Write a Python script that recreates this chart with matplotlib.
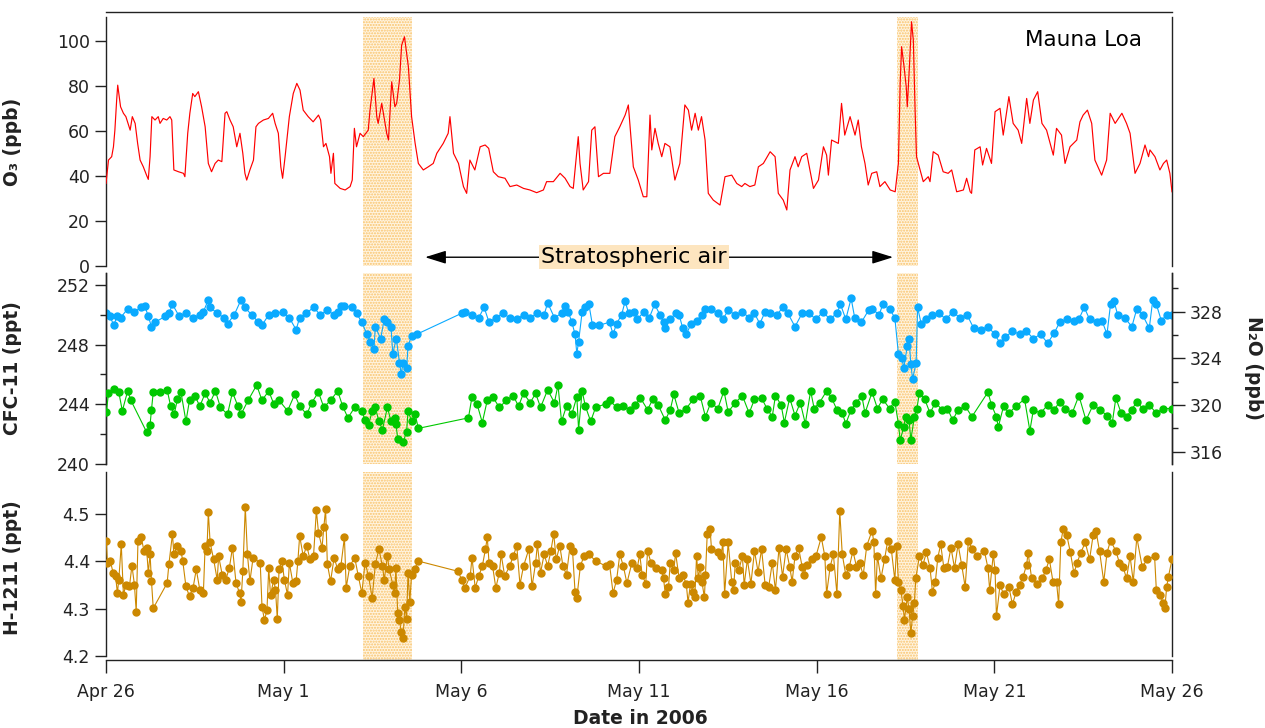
import numpy as np
import matplotlib
matplotlib.use("Agg")
import matplotlib.pyplot as plt
import matplotlib.dates as mdates
from matplotlib.ticker import FuncFormatter

# Mauna Loa, 26 Apr - 26 May 2006.  Times are days after 2006-04-26 00:00.
start = np.datetime64("2006-04-26T00:00")

o3_day = [0.00, 0.07, 0.16, 0.21, 0.25, 0.30, 0.33, 0.41, 0.49, 0.56,
          0.68, 0.74, 0.82, 0.89, 0.96, 1.05, 1.14, 1.19, 1.24, 1.29,
          1.38, 1.47, 1.52, 1.61, 1.71, 1.80, 1.85, 1.91, 2.04, 2.18,
          2.22, 2.30, 2.36, 2.44, 2.50, 2.60, 2.69, 2.79, 2.88, 2.97,
          3.07, 3.16, 3.26, 3.35, 3.40, 3.49, 3.58, 3.68, 3.77, 3.85,
          3.91, 3.96, 4.05, 4.15, 4.22, 4.29, 4.43, 4.57, 4.69, 4.76,
          4.85, 4.92, 4.97, 5.04, 5.16, 5.27, 5.37, 5.46, 5.55, 5.69,
          5.83, 5.98, 6.04, 6.12, 6.19, 6.29, 6.33, 6.40, 6.44, 6.59,
          6.73, 6.87, 6.93, 6.99, 7.05, 7.15, 7.24, 7.38, 7.43, 7.54,
          7.62, 7.66, 7.76, 7.90, 7.95, 8.04, 8.13, 8.18, 8.26, 8.32,
          8.40, 8.51, 8.60, 8.70, 8.79, 8.93, 9.07, 9.21, 9.31, 9.49,
          9.63, 9.68, 9.78, 9.92, 10.06, 10.15, 10.24, 10.38, 10.53, 10.67,
          10.77, 10.90, 11.04, 11.23, 11.37, 11.56, 11.75, 11.93, 12.12, 12.31,
          12.40, 12.59, 12.78, 12.92, 13.06, 13.15, 13.29, 13.34, 13.43, 13.58,
          13.67, 13.76, 13.86, 14.00, 14.18, 14.32, 14.46, 14.61, 14.70, 14.84,
          14.98, 15.12, 15.22, 15.31, 15.36, 15.45, 15.54, 15.64, 15.73, 15.87,
          16.01, 16.15, 16.29, 16.39, 16.48, 16.58, 16.67, 16.76, 16.86, 16.95,
          17.09, 17.28, 17.42, 17.61, 17.75, 17.89, 17.98, 18.12, 18.26, 18.36,
          18.50, 18.69, 18.83, 18.92, 19.06, 19.16, 19.25, 19.39, 19.48, 19.58,
          19.72, 19.91, 20.05, 20.19, 20.28, 20.33, 20.42, 20.61, 20.70, 20.79,
          20.94, 21.08, 21.17, 21.26, 21.36, 21.45, 21.55, 21.69, 21.78, 21.92,
          22.07, 22.21, 22.30, 22.35, 22.39, 22.46, 22.52, 22.55, 22.61, 22.67,
          22.72, 22.77, 22.81, 22.91, 23.00, 23.14, 23.19, 23.28, 23.42, 23.56,
          23.70, 23.80, 23.94, 24.13, 24.22, 24.32, 24.36, 24.45, 24.60, 24.67,
          24.78, 24.92, 25.02, 25.16, 25.25, 25.41, 25.53, 25.67, 25.77, 25.91,
          26.00, 26.10, 26.22, 26.34, 26.47, 26.66, 26.75, 26.89, 26.99, 27.13,
          27.32, 27.41, 27.50, 27.62, 27.74, 27.83, 28.02, 28.16, 28.26, 28.40,
          28.59, 28.72, 28.82, 28.96, 29.10, 29.24, 29.34, 29.38, 29.52, 29.66,
          29.76, 29.85, 29.94, 30.00]
o3_ppb = [36.7, 47.1, 48.6, 53.0, 60.4, 73.8, 80.4, 70.8, 67.9, 66.4,
          60.4, 66.4, 63.4, 54.5, 47.1, 44.1, 40.4, 38.5, 48.6, 66.4,
          64.9, 66.4, 63.4, 65.6, 64.9, 66.4, 64.9, 42.7, 41.9, 41.2,
          39.7, 59.0, 67.9, 76.7, 75.3, 77.5, 70.8, 61.9, 45.6, 41.9,
          45.6, 47.1, 46.4, 67.9, 68.6, 64.9, 61.9, 53.0, 59.0, 50.1,
          41.2, 38.2, 42.7, 47.1, 61.9, 63.4, 64.9, 65.6, 67.9, 63.4,
          59.0, 44.1, 39.0, 48.6, 66.4, 76.7, 81.2, 78.2, 69.3, 66.4,
          64.1, 67.1, 64.9, 53.0, 54.5, 48.6, 41.2, 50.1, 36.7, 34.5,
          33.8, 35.3, 38.2, 61.2, 53.0, 59.0, 57.5, 60.4, 69.3, 83.4,
          66.4, 63.4, 72.3, 59.0, 56.0, 81.9, 70.8, 72.3, 82.7, 98.2,
          101.9, 88.6, 66.4, 54.5, 45.6, 42.7, 44.1, 45.6, 50.1, 54.5,
          59.0, 66.4, 50.1, 45.6, 35.3, 32.3, 47.1, 42.7, 53.0, 53.8,
          52.3, 41.9, 39.7, 39.0, 35.3, 36.0, 34.5, 33.8, 32.6, 33.8,
          37.5, 37.5, 41.2, 39.0, 35.3, 34.5, 57.5, 45.6, 33.8, 37.5,
          60.4, 61.9, 39.7, 41.2, 41.2, 57.5, 61.9, 67.1, 71.6, 44.1,
          38.2, 30.8, 30.8, 67.1, 51.6, 61.2, 54.5, 48.6, 54.5, 53.0,
          38.2, 45.6, 71.6, 69.3, 60.4, 67.9, 60.4, 66.4, 56.0, 32.3,
          29.3, 27.1, 39.7, 40.4, 36.7, 35.3, 36.7, 35.3, 36.0, 44.1,
          45.6, 50.8, 48.6, 32.3, 29.3, 24.9, 42.7, 48.6, 44.1, 48.6,
          50.1, 34.5, 38.2, 53.0, 49.3, 40.4, 56.0, 54.5, 72.3, 58.2,
          66.4, 58.2, 64.9, 53.0, 45.6, 36.0, 41.2, 41.9, 35.3, 37.5,
          33.8, 33.0, 45.6, 81.2, 97.5, 88.6, 79.7, 70.8, 88.6, 108.6,
          100.4, 69.3, 48.6, 42.7, 37.5, 39.7, 37.5, 50.8, 49.3, 41.9,
          41.2, 42.7, 33.0, 33.8, 39.0, 33.0, 32.3, 51.6, 53.0, 44.9,
          52.3, 45.6, 68.6, 70.1, 58.2, 75.3, 63.4, 60.4, 54.5, 74.5,
          63.4, 73.8, 77.5, 63.4, 60.4, 49.3, 61.2, 58.2, 45.6, 53.0,
          56.0, 64.1, 67.1, 69.3, 63.4, 47.1, 40.4, 47.1, 67.9, 63.4,
          67.9, 63.4, 59.0, 41.2, 45.6, 53.8, 48.6, 51.6, 48.6, 42.7,
          45.6, 47.1, 41.2, 33.0]

cfc11_day = [0.01, 0.11, 0.22, 0.31, 0.41, 0.61, 0.80, 0.99, 1.09, 1.19,
             1.28, 1.38, 1.67, 1.77, 1.87, 2.06, 2.25, 2.45, 2.64, 2.74,
             2.88, 2.93, 3.13, 3.32, 3.42, 3.61, 3.80, 3.90, 4.10, 4.29,
             4.39, 4.58, 4.77, 4.97, 5.16, 5.35, 5.45, 5.64, 5.84, 6.03,
             6.23, 6.42, 6.52, 6.61, 6.71, 6.91, 7.05, 7.20, 7.34, 7.44,
             7.54, 7.58, 7.73, 7.83, 7.92, 8.02, 8.07, 8.17, 8.26, 8.31,
             8.36, 8.46, 8.50, 8.60, 8.75, 10.01, 10.10, 10.30, 10.49, 10.64,
             10.78, 10.97, 11.17, 11.36, 11.56, 11.75, 11.94, 12.14, 12.33, 12.43,
             12.62, 12.82, 12.91, 13.01, 13.11, 13.20, 13.25, 13.30, 13.40, 13.49,
             13.59, 13.69, 13.88, 14.17, 14.27, 14.37, 14.51, 14.61, 14.71, 14.85,
             14.95, 15.14, 15.29, 15.44, 15.59, 15.69, 15.74, 15.88, 16.03, 16.13,
             16.23, 16.33, 16.47, 16.62, 16.77, 16.87, 17.02, 17.22, 17.36, 17.51,
             17.71, 17.91, 18.10, 18.25, 18.40, 18.55, 18.70, 18.89, 19.04, 19.19,
             19.39, 19.59, 19.78, 19.98, 20.18, 20.37, 20.57, 20.67, 20.82, 20.97,
             21.07, 21.26, 21.46, 21.56, 21.76, 21.86, 22.05, 22.20, 22.30, 22.40,
             22.45, 22.55, 22.60, 22.65, 22.70, 22.80, 22.84, 22.94, 23.09, 23.24,
             23.44, 23.64, 23.83, 24.03, 24.23, 24.42, 24.62, 24.82, 25.01, 25.16,
             25.31, 25.51, 25.71, 25.90, 26.10, 26.30, 26.50, 26.69, 26.84, 27.04,
             27.24, 27.38, 27.53, 27.68, 27.88, 28.03, 28.17, 28.27, 28.37, 28.47,
             28.67, 28.87, 29.01, 29.17, 29.36, 29.46, 29.56, 29.70, 29.85, 30.00]
cfc11_ppt = [250.1, 249.9, 249.3, 249.9, 249.8, 250.4, 250.2, 250.5, 250.6, 249.9,
             249.2, 249.5, 249.9, 250.1, 250.7, 249.9, 250.1, 249.8, 250.0, 250.2,
             251.0, 250.5, 250.1, 249.8, 249.4, 250.0, 251.0, 250.5, 250.0, 249.5,
             249.3, 250.0, 250.1, 250.2, 249.8, 249.0, 249.8, 250.1, 250.5, 250.0,
             250.3, 250.0, 250.2, 250.6, 250.6, 250.5, 250.1, 249.5, 248.7, 248.2,
             247.7, 249.2, 248.4, 249.7, 249.5, 249.2, 247.4, 248.4, 246.8, 246.0,
             246.8, 246.4, 247.9, 248.6, 248.7, 250.1, 250.2, 250.0, 249.8, 250.5,
             249.5, 249.8, 250.1, 249.8, 249.7, 250.0, 249.8, 250.1, 250.0, 250.8,
             249.8, 250.1, 250.6, 250.2, 249.5, 248.7, 247.4, 248.2, 250.2, 250.5,
             250.7, 249.3, 249.3, 249.5, 248.7, 249.4, 250.0, 250.9, 250.1, 250.2,
             249.7, 250.2, 249.8, 250.7, 250.0, 249.5, 249.1, 249.7, 250.1, 250.0,
             249.1, 248.7, 249.4, 249.6, 250.0, 250.4, 250.4, 250.1, 249.7, 250.3,
             250.0, 250.2, 249.8, 250.1, 249.4, 250.2, 250.1, 250.0, 250.5, 250.1,
             249.2, 250.1, 250.1, 249.7, 250.2, 249.7, 250.1, 250.7, 249.7, 251.1,
             249.8, 249.5, 250.3, 250.4, 250.0, 250.7, 250.4, 249.8, 247.4, 247.1,
             246.4, 247.9, 248.4, 246.7, 245.7, 246.8, 250.5, 249.4, 249.7, 250.0,
             250.1, 249.7, 250.2, 249.8, 250.0, 249.1, 249.0, 249.2, 248.7, 248.1,
             248.5, 248.9, 248.7, 248.9, 248.4, 248.7, 248.1, 248.8, 249.5, 249.7,
             249.6, 249.7, 250.5, 249.7, 249.5, 249.6, 248.7, 250.7, 250.9, 250.0,
             249.8, 249.2, 250.4, 250.0, 249.1, 251.0, 250.7, 249.6, 250.0, 250.0]

n2o_day = [0.01, 0.07, 0.22, 0.36, 0.46, 0.61, 0.70, 1.14, 1.24, 1.28,
           1.33, 1.53, 1.72, 1.82, 1.92, 2.01, 2.11, 2.25, 2.35, 2.50,
           2.64, 2.79, 2.93, 3.08, 3.22, 3.42, 3.56, 3.71, 3.80, 4.00,
           4.24, 4.39, 4.58, 4.72, 4.87, 5.11, 5.31, 5.45, 5.65, 5.79,
           5.98, 6.13, 6.32, 6.52, 6.66, 6.81, 7.00, 7.20, 7.29, 7.39,
           7.49, 7.58, 7.68, 7.78, 7.92, 8.02, 8.12, 8.16, 8.21, 8.36,
           8.46, 8.50, 8.60, 8.70, 8.79, 10.20, 10.30, 10.44, 10.59, 10.73,
           10.88, 11.07, 11.27, 11.46, 11.61, 11.75, 11.94, 12.09, 12.23, 12.43,
           12.62, 12.72, 12.82, 12.96, 13.11, 13.25, 13.30, 13.40, 13.49, 13.64,
           13.78, 14.07, 14.17, 14.37, 14.56, 14.75, 14.90, 15.04, 15.24, 15.39,
           15.54, 15.74, 15.88, 15.98, 16.13, 16.33, 16.53, 16.72, 16.87, 17.02,
           17.22, 17.39, 17.51, 17.71, 17.91, 18.10, 18.25, 18.45, 18.60, 18.75,
           18.84, 19.00, 19.09, 19.24, 19.39, 19.54, 19.68, 19.83, 19.93, 20.08,
           20.28, 20.42, 20.57, 20.72, 20.82, 20.97, 21.12, 21.27, 21.36, 21.56,
           21.71, 21.86, 22.05, 22.20, 22.30, 22.35, 22.45, 22.50, 22.60, 22.65,
           22.75, 22.82, 22.89, 23.04, 23.19, 23.34, 23.53, 23.68, 23.83, 23.98,
           24.18, 24.37, 24.82, 24.92, 25.06, 25.11, 25.26, 25.41, 25.61, 25.85,
           26.00, 26.10, 26.30, 26.50, 26.69, 26.84, 26.99, 27.19, 27.38, 27.58,
           27.78, 27.97, 28.17, 28.32, 28.42, 28.57, 28.72, 28.87, 29.01, 29.17,
           29.36, 29.56, 29.75, 30.00]
n2o_ppb = [319.4, 321.0, 321.4, 321.1, 319.5, 321.2, 320.4, 317.7, 318.3, 319.6,
           321.1, 321.1, 321.3, 319.9, 319.2, 320.5, 321.1, 318.6, 320.4, 320.8,
           319.9, 321.0, 320.2, 321.2, 319.8, 319.2, 321.1, 319.9, 319.2, 320.4,
           321.7, 320.4, 321.2, 320.1, 320.4, 319.5, 320.9, 319.9, 319.2, 320.2,
           321.1, 319.8, 320.4, 321.2, 319.9, 318.9, 319.8, 319.5, 318.7, 318.3,
           319.5, 319.8, 318.6, 317.9, 319.8, 318.6, 318.9, 318.4, 317.1, 316.8,
           317.7, 319.5, 318.6, 319.2, 318.0, 318.9, 320.7, 320.1, 318.5, 320.4,
           320.7, 319.8, 320.4, 320.8, 319.9, 321.0, 320.2, 321.0, 319.8, 321.3,
           320.2, 321.7, 318.6, 319.9, 319.2, 320.7, 317.9, 321.2, 319.9, 318.6,
           319.8, 320.1, 320.4, 319.8, 319.9, 319.6, 320.0, 320.6, 319.6, 320.5,
           320.0, 318.7, 319.6, 320.9, 319.3, 319.7, 320.5, 320.8, 319.0, 320.2,
           319.7, 321.2, 319.4, 320.2, 320.8, 319.3, 320.5, 320.6, 319.7, 319.0,
           320.8, 320.0, 318.5, 320.6, 319.1, 320.2, 318.4, 321.2, 319.7, 320.2,
           321.2, 320.6, 319.6, 319.3, 318.4, 319.6, 320.2, 320.8, 319.3, 321.1,
           319.7, 320.5, 319.7, 320.3, 318.4, 317.0, 318.1, 319.0, 318.7, 317.0,
           319.0, 319.7, 321.0, 320.5, 319.3, 320.2, 319.6, 319.7, 318.7, 319.6,
           319.9, 319.0, 321.1, 320.0, 319.0, 318.1, 319.9, 319.3, 319.9, 320.5,
           317.8, 319.6, 319.3, 320.0, 319.6, 320.3, 319.7, 319.3, 320.8, 318.7,
           320.0, 319.6, 319.1, 318.5, 320.6, 319.3, 319.0, 319.6, 320.3, 319.7,
           320.0, 319.3, 319.7, 319.7]

h1211_day = [0.01, 0.04, 0.12, 0.20, 0.27, 0.32, 0.36, 0.43, 0.49, 0.56,
             0.66, 0.73, 0.80, 0.85, 0.90, 0.99, 1.07, 1.14, 1.19, 1.24,
             1.28, 1.33, 1.72, 1.77, 1.87, 1.91, 2.01, 2.11, 2.16, 2.25,
             2.35, 2.45, 2.54, 2.64, 2.74, 2.79, 2.84, 2.88, 2.93, 3.03,
             3.13, 3.17, 3.27, 3.37, 3.47, 3.56, 3.66, 3.76, 3.80, 3.85,
             3.92, 3.98, 4.05, 4.14, 4.34, 4.39, 4.46, 4.53, 4.58, 4.63,
             4.72, 4.77, 4.82, 4.87, 4.95, 5.02, 5.11, 5.16, 5.26, 5.35,
             5.40, 5.45, 5.55, 5.65, 5.74, 5.84, 5.92, 5.98, 6.08, 6.13,
             6.18, 6.23, 6.32, 6.42, 6.52, 6.61, 6.71, 6.76, 6.86, 7.00,
             7.10, 7.20, 7.29, 7.39, 7.49, 7.58, 7.68, 7.78, 7.83, 7.92,
             7.97, 8.07, 8.12, 8.16, 8.21, 8.26, 8.31, 8.36, 8.41, 8.46,
             8.50, 8.55, 8.60, 8.70, 8.77, 9.91, 10.01, 10.10, 10.25, 10.30,
             10.39, 10.49, 10.59, 10.68, 10.73, 10.78, 10.88, 10.97, 11.07, 11.12,
             11.22, 11.36, 11.46, 11.56, 11.65, 11.75, 11.90, 11.99, 12.09, 12.14,
             12.23, 12.33, 12.43, 12.52, 12.60, 12.67, 12.77, 12.86, 12.96, 13.06,
             13.13, 13.20, 13.25, 13.35, 13.45, 13.59, 13.78, 14.07, 14.17, 14.27,
             14.37, 14.46, 14.56, 14.66, 14.80, 14.95, 15.02, 15.09, 15.19, 15.24,
             15.34, 15.49, 15.64, 15.69, 15.74, 15.83, 15.88, 15.98, 16.03, 16.13,
             16.23, 16.33, 16.38, 16.45, 16.53, 16.57, 16.62, 16.67, 16.72, 16.77,
             16.84, 16.87, 16.92, 17.00, 17.04, 17.22, 17.31, 17.36, 17.41, 17.51,
             17.61, 17.66, 17.71, 17.81, 17.91, 17.96, 18.05, 18.15, 18.25, 18.35,
             18.45, 18.55, 18.65, 18.75, 18.84, 18.94, 19.04, 19.14, 19.24, 19.31,
             19.39, 19.49, 19.59, 19.64, 19.73, 19.88, 19.98, 20.13, 20.23, 20.28,
             20.38, 20.47, 20.57, 20.65, 20.72, 20.82, 20.92, 21.02, 21.12, 21.21,
             21.31, 21.41, 21.56, 21.61, 21.66, 21.71, 21.81, 21.91, 22.00, 22.10,
             22.20, 22.25, 22.30, 22.37, 22.43, 22.47, 22.55, 22.60, 22.65, 22.70,
             22.75, 22.79, 22.89, 22.99, 23.09, 23.19, 23.26, 23.34, 23.41, 23.49,
             23.58, 23.68, 23.78, 23.88, 23.98, 24.08, 24.18, 24.27, 24.37, 24.52,
             24.72, 24.82, 24.87, 24.97, 25.02, 25.06, 25.16, 25.26, 25.41, 25.51,
             25.61, 25.71, 25.81, 25.91, 25.95, 26.05, 26.20, 26.35, 26.45, 26.55,
             26.65, 26.75, 26.81, 26.87, 26.94, 27.04, 27.14, 27.24, 27.33, 27.43,
             27.56, 27.68, 27.78, 27.86, 27.96, 28.08, 28.17, 28.27, 28.42, 28.52,
             28.62, 28.72, 28.82, 28.91, 29.01, 29.16, 29.31, 29.51, 29.56, 29.67,
             29.75, 29.80, 29.85, 29.90, 30.00]
h1211_ppt = [4.444, 4.397, 4.401, 4.376, 4.369, 4.333, 4.361, 4.436, 4.329, 4.351,
             4.347, 4.391, 4.351, 4.294, 4.444, 4.451, 4.422, 4.429, 4.376, 4.415,
             4.358, 4.301, 4.354, 4.394, 4.458, 4.415, 4.433, 4.422, 4.401, 4.347,
             4.326, 4.344, 4.383, 4.340, 4.333, 4.433, 4.422, 4.504, 4.440, 4.404,
             4.361, 4.411, 4.372, 4.361, 4.386, 4.429, 4.354, 4.333, 4.315, 4.379,
             4.515, 4.415, 4.358, 4.408, 4.397, 4.304, 4.276, 4.297, 4.386, 4.329,
             4.361, 4.340, 4.279, 4.383, 4.401, 4.361, 4.329, 4.397, 4.354, 4.358,
             4.401, 4.454, 4.411, 4.433, 4.404, 4.411, 4.508, 4.461, 4.429, 4.472,
             4.511, 4.394, 4.358, 4.408, 4.383, 4.390, 4.451, 4.344, 4.390, 4.408,
             4.369, 4.333, 4.397, 4.369, 4.322, 4.394, 4.426, 4.390, 4.361, 4.411,
             4.383, 4.351, 4.333, 4.386, 4.290, 4.276, 4.251, 4.238, 4.304, 4.279,
             4.376, 4.315, 4.372, 4.383, 4.401, 4.379, 4.361, 4.344, 4.369, 4.408,
             4.344, 4.369, 4.390, 4.426, 4.451, 4.397, 4.390, 4.344, 4.376, 4.415,
             4.369, 4.390, 4.411, 4.433, 4.351, 4.390, 4.426, 4.347, 4.397, 4.436,
             4.376, 4.415, 4.390, 4.422, 4.458, 4.404, 4.433, 4.390, 4.372, 4.433,
             4.422, 4.336, 4.322, 4.390, 4.411, 4.415, 4.401, 4.390, 4.394, 4.333,
             4.361, 4.415, 4.390, 4.354, 4.397, 4.386, 4.415, 4.371, 4.353, 4.422,
             4.397, 4.386, 4.382, 4.364, 4.331, 4.346, 4.397, 4.382, 4.418, 4.364,
             4.371, 4.353, 4.313, 4.353, 4.335, 4.324, 4.411, 4.364, 4.389, 4.357,
             4.324, 4.371, 4.458, 4.469, 4.426, 4.419, 4.411, 4.440, 4.331, 4.440,
             4.357, 4.339, 4.397, 4.382, 4.411, 4.350, 4.404, 4.353, 4.422, 4.378,
             4.426, 4.350, 4.346, 4.397, 4.339, 4.429, 4.368, 4.426, 4.389, 4.357,
             4.411, 4.429, 4.389, 4.371, 4.393, 4.404, 4.411, 4.451, 4.411, 4.331,
             4.389, 4.415, 4.331, 4.506, 4.415, 4.371, 4.389, 4.422, 4.389, 4.397,
             4.371, 4.433, 4.465, 4.440, 4.331, 4.411, 4.364, 4.404, 4.444, 4.426,
             4.360, 4.433, 4.357, 4.339, 4.306, 4.277, 4.324, 4.299, 4.248, 4.284,
             4.313, 4.364, 4.411, 4.393, 4.419, 4.386, 4.335, 4.357, 4.408, 4.436,
             4.386, 4.389, 4.429, 4.386, 4.436, 4.393, 4.346, 4.444, 4.426, 4.411,
             4.422, 4.386, 4.339, 4.415, 4.382, 4.284, 4.350, 4.331, 4.346, 4.309,
             4.335, 4.350, 4.368, 4.393, 4.418, 4.364, 4.353, 4.364, 4.382, 4.404,
             4.357, 4.357, 4.309, 4.440, 4.469, 4.455, 4.419, 4.375, 4.397, 4.418,
             4.440, 4.404, 4.455, 4.465, 4.422, 4.357, 4.418, 4.444, 4.422, 4.397,
             4.389, 4.364, 4.411, 4.357, 4.451, 4.389, 4.404, 4.411, 4.339, 4.328,
             4.313, 4.302, 4.346, 4.368, 4.404]

# stratospheric intrusion windows (start day, end day)
events = [(7.23, 8.61), (22.26, 22.85)]
strat_span = (8.98, 22.15)


def to_dates(days):
    return start + np.round(np.asarray(days) * 1440).astype("timedelta64[m]")


plt.rcParams["font.family"] = ["DejaVu Sans"]
ink = "#222222"
blue = "#0aaaff"
green = "#00c800"
gold = "#cc8800"
shade_face = "#fff4e0"
shade_dots = "#f9c36a"

W, H = 1265, 728
fig = plt.figure(figsize=(W / 100, H / 100), dpi=100)
left, width = 106 / W, 1066 / W
ax1 = fig.add_axes([left, 1 - 266 / H, width, 249 / H])
ax2 = fig.add_axes([left, 1 - 464 / H, width, 191 / H])
ax3 = fig.add_axes([left, 1 - 660 / H, width, 188 / H])
ax2r = ax2.twinx()

x0, x1 = start, start + np.timedelta64(30, "D")

for ax in (ax1, ax2, ax3):
    ax.set_xlim(x0, x1)
    for a, b in events:
        ax.axvspan(to_dates(a), to_dates(b), facecolor=shade_face, edgecolor=shade_dots,
                   hatch="......", lw=0, zorder=0)
    for s in ax.spines.values():
        s.set_color(ink)
        s.set_linewidth(1.0)
    ax.tick_params(axis="y", direction="out", length=8, width=1, color=ink,
                   labelsize=12.5, labelcolor=ink)
    ax.tick_params(axis="y", which="minor", direction="out", length=4.3, width=1, color=ink)
for s in ax2r.spines.values():
    s.set_color(ink)
    s.set_linewidth(1.0)

# O3
ax1.plot(to_dates(o3_day), o3_ppb, color="red", lw=0.85, zorder=3)
ax1.set_ylim(0, 110.7)
ax1.set_yticks([0, 20, 40, 60, 80, 100])
ax1.spines["bottom"].set_visible(False)
ax1.spines["top"].set_position(("outward", 3.6))
ax1.tick_params(axis="x", bottom=False, labelbottom=False)
ax1.set_ylabel("O\u2083 (ppb)", fontsize=13.5, fontweight="bold", color=ink)
ax1.yaxis.set_label_coords(-0.079, 0.5)
ax1.text(0.917, 0.908, "Mauna Loa", transform=ax1.transAxes, ha="center", va="center",
         fontsize=15.5, color="black")

# stratospheric air arrow and label
sx0, sx1 = mdates.date2num(to_dates(strat_span[0])), mdates.date2num(to_dates(strat_span[1]))
ax1.annotate("", xy=(sx1, 3.9), xytext=(sx0, 3.9), annotation_clip=False,
             arrowprops=dict(arrowstyle="<|-|>,head_length=0.8,head_width=0.25",
                             color="black", lw=1.0, mutation_scale=16,
                             shrinkA=0, shrinkB=0), zorder=4)
ax1.text(mdates.date2num(to_dates(14.86)), 4.0, "Stratospheric air", ha="center", va="center",
         fontsize=16, color="black", zorder=5,
         bbox=dict(facecolor="#fde5bf", edgecolor="none", pad=1.5))

# CFC-11 and N2O
ax2.plot(to_dates(cfc11_day), cfc11_ppt, color=blue, lw=0.8, marker="o", ms=5.0,
         mec=blue, mfc=blue, zorder=3)
ax2r.plot(to_dates(n2o_day), n2o_ppb, color=green, lw=0.8, marker="o", ms=5.0,
          mec=green, mfc=green, zorder=3)
ax2.set_ylim(240, 252.8)
ax2.set_yticks([240, 244, 248, 252])
ax2.set_yticks([242, 246, 250], minor=True)
ax2r.set_ylim(314.95, 331.3)
ax2r.set_yticks([316, 320, 324, 328])
ax2r.set_yticks([318, 322, 326, 330], minor=True)
ax2r.tick_params(axis="y", direction="out", length=9, width=1, color=ink,
                 labelsize=12.5, labelcolor=ink)
ax2r.tick_params(axis="y", which="minor", direction="out", length=4.3, width=1, color=ink)
for a in (ax2, ax2r):
    a.spines["top"].set_visible(False)
    a.spines["bottom"].set_visible(False)
    a.tick_params(axis="x", bottom=False, labelbottom=False)
ax2.set_ylabel("CFC-11 (ppt)", fontsize=13.5, fontweight="bold", color=ink)
ax2.yaxis.set_label_coords(-0.079, 0.5)
ax2r.set_ylabel("N\u2082O (ppb)", fontsize=13.5, fontweight="bold", color=ink,
                rotation=270, va="center")
ax2r.yaxis.set_label_coords(1.076, 0.5)

# H-1211
ax3.plot(to_dates(h1211_day), h1211_ppt, color=gold, lw=0.8, marker="o", ms=5.0,
         mec=gold, mfc=gold, zorder=3)
ax3.set_ylim(4.1915, 4.589)
ax3.set_yticks([4.2, 4.3, 4.4, 4.5])
ax3.yaxis.set_major_formatter(FuncFormatter(lambda v, p: f"{v:.1f}"))
ax3.spines["top"].set_visible(False)
ax3.spines["left"].set_bounds(4.2, 4.589)
ax3.spines["right"].set_bounds(4.2, 4.589)
ax3.set_ylabel("H-1211 (ppt)", fontsize=13.5, fontweight="bold", color=ink)
ax3.yaxis.set_label_coords(-0.079, 0.49)
ax3.xaxis.set_major_locator(mdates.DayLocator(bymonthday=[1, 6, 11, 16, 21, 26]))
ax3.xaxis.set_major_formatter(FuncFormatter(
    lambda v, p: f"{mdates.num2date(v):%b} {mdates.num2date(v).day}"))
ax3.tick_params(axis="x", direction="out", length=9.4, width=1, color=ink,
                labelsize=12.5, labelcolor=ink, pad=7)

fig.text(640 / W, 1 - 718 / H, "Date in 2006", ha="center", va="center",
         fontsize=13.5, fontweight="bold", color=ink)

fig.savefig("out.png", dpi=100)
